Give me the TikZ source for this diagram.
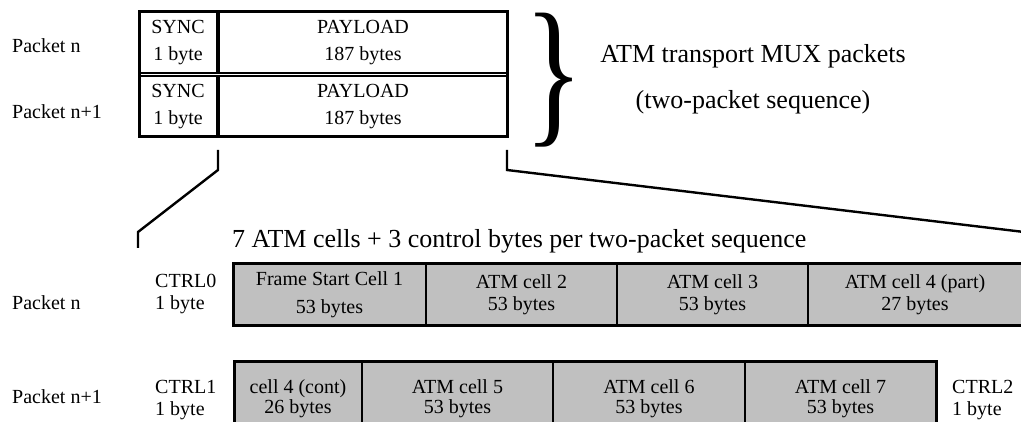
\documentclass[tikz,border=0pt]{standalone}
\usepackage{fontspec}
\setmainfont{Liberation Serif}
\usepackage{tikz}
\usetikzlibrary{fit,positioning}
\definecolor{cellgray}{RGB}{192,192,192}

\begin{document}
\begin{tikzpicture}[x=1pt, y=-1pt,
		txt/.style = {font=\fontsize{20}{22}\selectfont, align=left, inner sep=0pt, anchor=west},
		bigtxt/.style = {font=\fontsize{26}{30}\selectfont, inner sep=0pt},
		field/.style = {draw=black, line width=2pt, inner sep=0pt, outer sep=0pt, minimum height=61pt, align=center, font=\fontsize{20}{27}\selectfont},
		cell/.style = {draw=black, line width=1.6pt, fill=cellgray, inner sep=0pt, outer sep=0pt, align=center},
		rowframe/.style = {draw=black, line width=3pt, inner sep=0pt},
		link/.style = {line width=2.4pt},
	]
	\useasboundingbox (0,0) rectangle (1021,422);

	\node[field, minimum width=78pt, anchor=north west] (sync0) at (139,12) {SYNC\\1 byte};
	\node[field, minimum width=288pt, right=2pt of sync0] (pay0) {PAYLOAD\\187 bytes};
	\node[field, minimum width=78pt, below=3pt of sync0] (sync1) {SYNC\\1 byte};
	\node[field, minimum width=288pt, right=2pt of sync1] (pay1) {PAYLOAD\\187 bytes};
	\node[rowframe, fit=(sync0)(pay1)] (mux) {};

	\node[txt] (pn0) at (12,46) {Packet n};
	\node[txt] (pn1) at (12,112) {Packet n+1};

	\node[inner sep=0pt] (brace) at (554,80) {\scalebox{0.76}[1]{\fontsize{162}{162}\selectfont\}}};
	\node[bigtxt] (muxname) at (753,56) {ATM transport MUX packets};
	\node[bigtxt] (muxseq) at (753,102) {(two-packet sequence)};

	\coordinate (zl0) at (218,150);
	\coordinate (zl1) at (218,170);
	\coordinate (zl2) at (138,232);
	\coordinate (zl3) at (138,248);
	\coordinate (zr0) at (507,150);
	\coordinate (zr1) at (507,170);
	\coordinate (zr2) at (1024,232);
	\draw[link] (zl0) -- (zl1) -- (zl2) -- (zl3);
	\draw[link] (zr0) -- (zr1) -- (zr2);

	\node[bigtxt, anchor=west] (title) at (232,241) {7 ATM cells + 3 control bytes per two-packet sequence};

	\begin{scope}[every node/.style={cell, minimum height=62pt, font=\fontsize{20}{22}\selectfont}]
		\node[minimum width=193pt, anchor=north west] (c1) at (233,264) {Frame Start Cell 1\\[6pt]53 bytes};
		\node[minimum width=191pt, right=0pt of c1] (c2) {ATM cell 2\\53 bytes};
		\node[minimum width=191pt, right=0pt of c2] (c3) {ATM cell 3\\53 bytes};
		\node[minimum width=214pt, right=0pt of c3] (c4) {ATM cell 4 (part)\\27 bytes};
	\end{scope}
	\node[rowframe, fit=(c1)(c4)] (row0) {};

	\begin{scope}[every node/.style={cell, minimum height=76pt, font=\fontsize{20}{20}\selectfont}]
		\node[minimum width=128pt, anchor=north west] (d1) at (234,361) {cell 4 (cont)\\26 bytes};
		\node[minimum width=191pt, right=0pt of d1] (d2) {ATM cell 5\\53 bytes};
		\node[minimum width=192pt, right=0pt of d2] (d3) {ATM cell 6\\53 bytes};
		\node[minimum width=191pt, right=0pt of d3] (d4) {ATM cell 7\\53 bytes};
	\end{scope}
	\node[rowframe, fit=(d1)(d4)] (row1) {};

	\node[txt] (ctrl0) at (155,294) {CTRL0\\1 byte};
	\node[txt] (ctrl1) at (155,400) {CTRL1\\1 byte};
	\node[txt] (ctrl2) at (952,400) {CTRL2\\1 byte};

	\node[txt] (pn2) at (12,303) {Packet n};
	\node[txt] (pn3) at (12,397) {Packet n+1};

\end{tikzpicture}
\end{document}
